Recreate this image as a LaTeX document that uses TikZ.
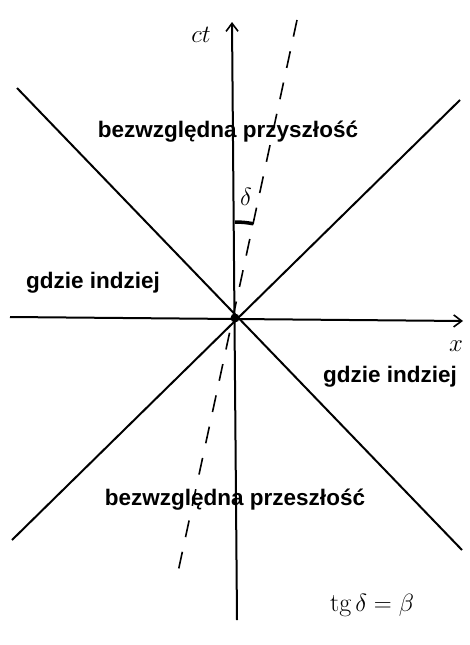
\documentclass[tikz,border=0pt]{standalone}
\usepackage{fontspec}
\newfontfamily\lab{Liberation Sans}
\usetikzlibrary{arrows.meta}
\begin{document}
\begin{tikzpicture}[x=1pt,y=-1pt,
  axis/.style={line width=2pt,-{Straight Barb[length=8pt,width=12pt,line width=1.6pt]}},
  cone/.style={line width=2pt},
  worldline/.style={line width=1.6pt,dash pattern=on 17pt off 15pt},
  region/.style={font=\lab\bfseries\fontsize{22.5}{24}\selectfont,inner sep=0pt},
  hand/.style={font=\fontsize{26}{28}\selectfont,inner sep=0pt}]
\useasboundingbox (0,0) rectangle (469,645);
% named points
\coordinate (O) at (235,318);
\coordinate (ctbot) at (237,620);
\coordinate (cttop) at (232,22);
\coordinate (xl) at (10,317);
\coordinate (xr) at (463,321);
\coordinate (d1a) at (17,88);
\coordinate (d1b) at (462,550);
\coordinate (d2a) at (460,100);
\coordinate (d2b) at (12,540);
\coordinate (wa) at (297,20);
\coordinate (wb) at (178,572);
% light cone
\draw[cone] (d1a) -- (d1b);
\draw[cone] (d2a) -- (d2b);
% axes
\draw[axis] (ctbot) -- (cttop);
\draw[axis] (xl) -- (xr);
% world line
\draw[worldline] (wa) -- (wb);
% angle mark
\draw[line width=3.5pt] (O) ++(-90:96) arc[start angle=-90,end angle=-79,radius=96];
\fill (O) circle[radius=4.5];
% labels
\node[hand,font=\fontsize{34}{36}\selectfont] (ct) at (201,35) {$ct$};
\node[hand,font=\fontsize{26}{28}\selectfont] (xlab) at (456,346) {$x$};
\node[hand,font=\fontsize{26}{28}\selectfont] (delta) at (246,197) {$\delta$};
\node[region] (fut) at (228,132) {bezwzględna przyszłość};
\node[region] (el1) at (93,283) {gdzie indziej};
\node[region] (el2) at (390,377) {gdzie indziej};
\node[region] (past) at (235,500) {bezwzględna przeszłość};
\node[hand] (tg) at (372,606) {$\mathrm{tg}\,\delta=\beta$};
\end{tikzpicture}
\end{document}
